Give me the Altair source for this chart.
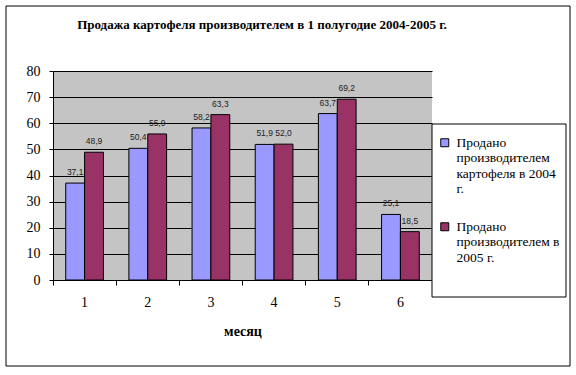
import json
import altair as alt
import pandas as pd

months = ["1", "2", "3", "4", "5", "6"]
series_names = [
    "Продано производителем картофеля в 2004 г.",
    "Продано производителем в 2005 г.",
]
values_2004 = [37.1, 50.4, 58.2, 51.9, 63.7, 25.1]
values_2005 = [48.9, 55.9, 63.3, 52.0, 69.2, 18.5]
legend_lines = [
    ["Продано", "производителем", "картофеля в 2004", "г."],
    ["Продано", "производителем в", "2005 г."],
]
colors = ["#9999FF", "#993366"]
title_text = "Продажа картофеля производителем в 1 полугодие 2004-2005 г."
x_title = "месяц"

rows = []
for i, m in enumerate(months):
    rows.append({"month": m, "series": series_names[0], "value": values_2004[i]})
    rows.append({"month": m, "series": series_names[1], "value": values_2005[i]})
df = pd.DataFrame(rows)

label_expr = "datum.label === %s ? %s : %s" % (
    json.dumps(series_names[0], ensure_ascii=False),
    json.dumps(legend_lines[0], ensure_ascii=False),
    json.dumps(legend_lines[1], ensure_ascii=False),
)

W, H = 379, 209
serif = "Liberation Serif"

x_enc = alt.X(
    "month:N",
    sort=months,
    scale=alt.Scale(paddingInner=0, paddingOuter=0),
    axis=alt.Axis(
        title=x_title,
        titleFont=serif,
        titleFontSize=14,
        titleFontWeight="bold",
        titleColor="black",
        titlePadding=15,
        labelFont=serif,
        labelFontSize=14,
        labelColor="black",
        labelAngle=0,
        labelPadding=10,
        bandPosition=0,
        tickSize=5,
        tickColor="black",
        domainColor="black",
        grid=False,
    ),
)
xoff_enc = alt.XOffset(
    "series:N",
    sort=series_names,
    scale=alt.Scale(paddingOuter=0.675, paddingInner=0),
)
y_enc = alt.Y(
    "value:Q",
    scale=alt.Scale(domain=[0, 80]),
    axis=alt.Axis(
        title=None,
        values=list(range(0, 81, 10)),
        labelOverlap=False,
        labelFont=serif,
        labelFontSize=14,
        labelColor="black",
        labelPadding=9,
        tickSize=4,
        tickColor="black",
        domainColor="black",
        grid=True,
        gridColor="black",
        gridOpacity=1,
        gridWidth=1,
    ),
)

base = alt.Chart(df)

bars = base.mark_bar(stroke="black", strokeWidth=1).encode(
    x=x_enc,
    xOffset=xoff_enc,
    y=y_enc,
    color=alt.Color(
        "series:N",
        sort=series_names,
        scale=alt.Scale(domain=series_names, range=colors),
        legend=alt.Legend(
            title=None,
            orient="none",
            legendX=385,
            legendY=65,
            symbolType="square",
            symbolSize=64,
            symbolStrokeColor="black",
            symbolStrokeWidth=1,
            symbolOpacity=1,
            labelFont=serif,
            labelFontSize=13.5,
            labelColor="black",
            labelLimit=0,
            labelOffset=5,
            labelExpr=label_expr,
            rowPadding=23,
            padding=0,
        ),
    ),
)

labels = base.transform_calculate(
    lab="replace(format(datum.value, '.1f'), '.', ',')"
).mark_text(
    dy=-6, fontSize=8.5, font="Liberation Sans", color="#222222", baseline="bottom"
).encode(
    x=x_enc,
    xOffset=xoff_enc,
    y=y_enc,
    text="lab:N",
)

deco = pd.DataFrame({"k": [0]})
frame = alt.Chart(deco).mark_rect(fill="transparent", stroke="black", strokeWidth=1).encode(
    x=alt.value(-47), x2=alt.value(517), y=alt.value(-65), y2=alt.value(295)
)
legend_box = alt.Chart(deco).mark_rect(fill="white", stroke="black", strokeWidth=1).encode(
    x=alt.value(379), x2=alt.value(513), y=alt.value(53), y2=alt.value(226)
)
title = alt.Chart(deco).mark_text(
    font=serif, fontSize=13, fontWeight="bold", color="black",
    align="center", baseline="middle",
).encode(
    x=alt.value(209), y=alt.value(-46), text=alt.value(title_text)
)

chart = (
    alt.layer(legend_box, bars, labels, frame, title)
    .properties(
        width=W,
        height=H,
        autosize=alt.AutoSizeParams(type="none"),
        padding={"left": 53, "top": 71, "right": 144, "bottom": 95},
        background="white",
    )
    .configure_view(fill="#C4C4C4", strokeWidth=0)
    .configure_axis(labelFont=serif, titleFont=serif)
    .configure_legend(labelFont=serif)
)

chart.save("out.html", embed_options={"renderer": "svg", "actions": False})
